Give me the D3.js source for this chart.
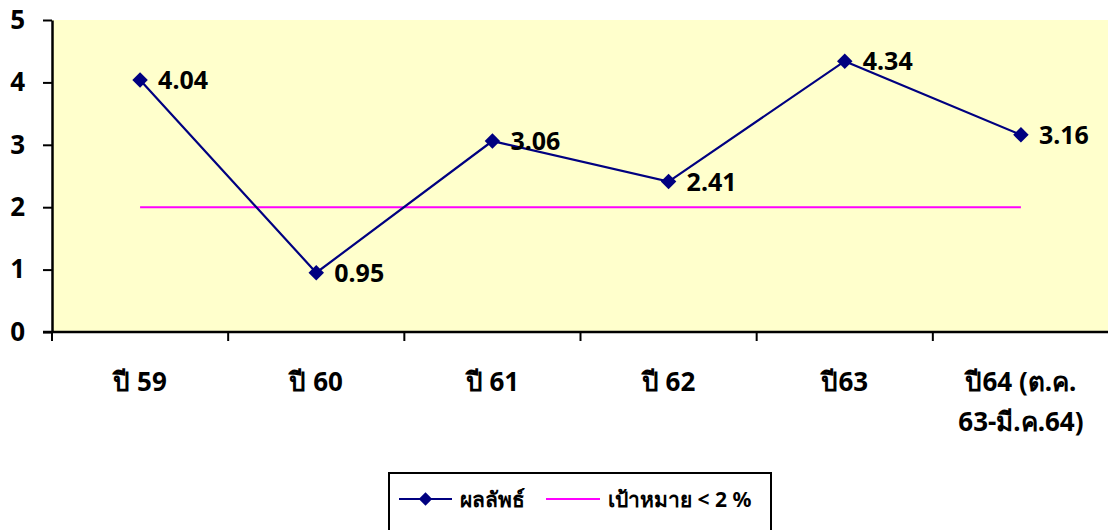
<!DOCTYPE html>
<html>
<head>
<meta charset="utf-8">
<script src="https://cdn.jsdelivr.net/npm/d3@7"></script>
<style>
  body { margin: 0; background: #fff; }
  text { font-family: "Noto Sans", "Open Sans", sans-serif; font-weight: bold; }
</style>
</head>
<body>
<svg></svg>
<script>
var categories = ["ปี 59", "ปี 60", "ปี 61", "ปี 62", "ปี63", "ปี64 (ต.ค.|63-มี.ค.64)"];
var results = [4.04, 0.95, 3.06, 2.41, 4.34, 3.16];
var target = [2, 2, 2, 2, 2, 2];
var yTicks = [0, 1, 2, 3, 4, 5];

var width = 1108;
var height = 530;
var plotLeft = 52, plotRight = 1109, plotTop = 20, plotBottom = 332;

var svg = d3.select('svg')
    .attr('width', width)
    .attr('height', height);

var xScale = d3.scaleBand()
    .domain(categories)
    .range([plotLeft, plotRight]);

var yScale = d3.scaleLinear()
    .domain([0, 5])
    .range([plotBottom, plotTop]);

// plot background
svg.append('rect')
    .attr('x', plotLeft)
    .attr('y', plotTop)
    .attr('width', plotRight - plotLeft)
    .attr('height', plotBottom - plotTop)
    .attr('fill', '#FFFFCC');

var cx = d => xScale(d) + xScale.bandwidth() / 2;

// target line
var line = d3.line()
    .x((d, i) => cx(categories[i]))
    .y(d => yScale(d));

svg.append('path')
    .datum(target)
    .attr('d', line)
    .attr('fill', 'none')
    .attr('stroke', '#FF00FF')
    .attr('stroke-width', 2);

// result line
svg.append('path')
    .datum(results)
    .attr('d', line)
    .attr('fill', 'none')
    .attr('stroke', '#000080')
    .attr('stroke-width', 2.2);

var diamond = d3.symbol().type(d3.symbolSquare).size(120);

svg.selectAll('.pt')
    .data(results)
    .enter()
    .append('path')
        .attr('class', 'pt')
        .attr('d', diamond)
        .attr('transform', (d, i) => "translate(" + cx(categories[i]) + "," + yScale(d) + ") rotate(45)")
        .attr('fill', '#000080');

svg.selectAll('.lbl')
    .data(results)
    .enter()
    .append('text')
        .attr('class', 'lbl')
        .attr('x', (d, i) => cx(categories[i]) + 18)
        .attr('y', d => yScale(d))
        .attr('dy', '0.36em')
        .style('font-size', '25px')
        .text(d => d.toFixed(2));

// axes
var yAxis = d3.axisLeft(yScale)
    .tickValues(yTicks)
    .tickFormat(d3.format('d'))
    .tickSize(9)
    .tickSizeOuter(0)
    .tickPadding(18);

var gy = svg.append('g')
    .attr('transform', "translate(" + plotLeft + ",0)")
    .call(yAxis);
gy.select('.domain').attr('stroke', '#000').attr('stroke-width', 2.5);
gy.selectAll('.tick line').attr('stroke', '#000').attr('stroke-width', 2);
gy.selectAll('.tick text')
    .style('font-size', '26px')
    .attr('fill', '#000');

var gx = svg.append('g')
    .attr('transform', "translate(0," + plotBottom + ")");
gx.append('line')
    .attr('x1', plotLeft - 9)
    .attr('x2', plotRight)
    .attr('stroke', '#000')
    .attr('stroke-width', 2.5);
gx.selectAll('.tk')
    .data(categories)
    .enter()
    .append('line')
        .attr('class', 'tk')
        .attr('x1', d => xScale(d))
        .attr('x2', d => xScale(d))
        .attr('y1', 0)
        .attr('y2', 9)
        .attr('stroke', '#000')
        .attr('stroke-width', 2);

gx.selectAll('.cat')
    .data(categories)
    .enter()
    .append('text')
        .attr('class', 'cat')
        .attr('x', d => cx(d))
        .attr('y', 59)
        .style('text-anchor', 'middle')
        .style('font-size', '26px')
        .each(function(d) {
            var parts = d.split('|');
            var t = d3.select(this);
            parts.forEach(function(p, i) {
                t.append('tspan')
                    .attr('x', cx(d))
                    .attr('dy', i === 0 ? 0 : 40)
                    .text(p);
            });
        });

// legend
var lg = svg.append('g');
lg.append('rect')
    .attr('x', 389)
    .attr('y', 473)
    .attr('width', 382)
    .attr('height', 70)
    .attr('fill', '#fff')
    .attr('stroke', '#000')
    .attr('stroke-width', 2);
lg.append('line')
    .attr('x1', 399).attr('x2', 452)
    .attr('y1', 499).attr('y2', 499)
    .attr('stroke', '#000080')
    .attr('stroke-width', 2.2);
lg.append('path')
    .attr('d', d3.symbol().type(d3.symbolSquare).size(90))
    .attr('transform', 'translate(425.5,499) rotate(45)')
    .attr('fill', '#000080');
lg.append('text')
    .attr('x', 460)
    .attr('y', 499)
    .attr('dy', '0.36em')
    .style('font-size', '21px')
    .text('ผลลัพธ์');
lg.append('line')
    .attr('x1', 546).attr('x2', 600)
    .attr('y1', 499).attr('y2', 499)
    .attr('stroke', '#FF00FF')
    .attr('stroke-width', 2);
lg.append('text')
    .attr('x', 608)
    .attr('y', 499)
    .attr('dy', '0.36em')
    .style('font-size', '21px')
    .text('เป้าหมาย < 2 %');
</script>
</body>
</html>
